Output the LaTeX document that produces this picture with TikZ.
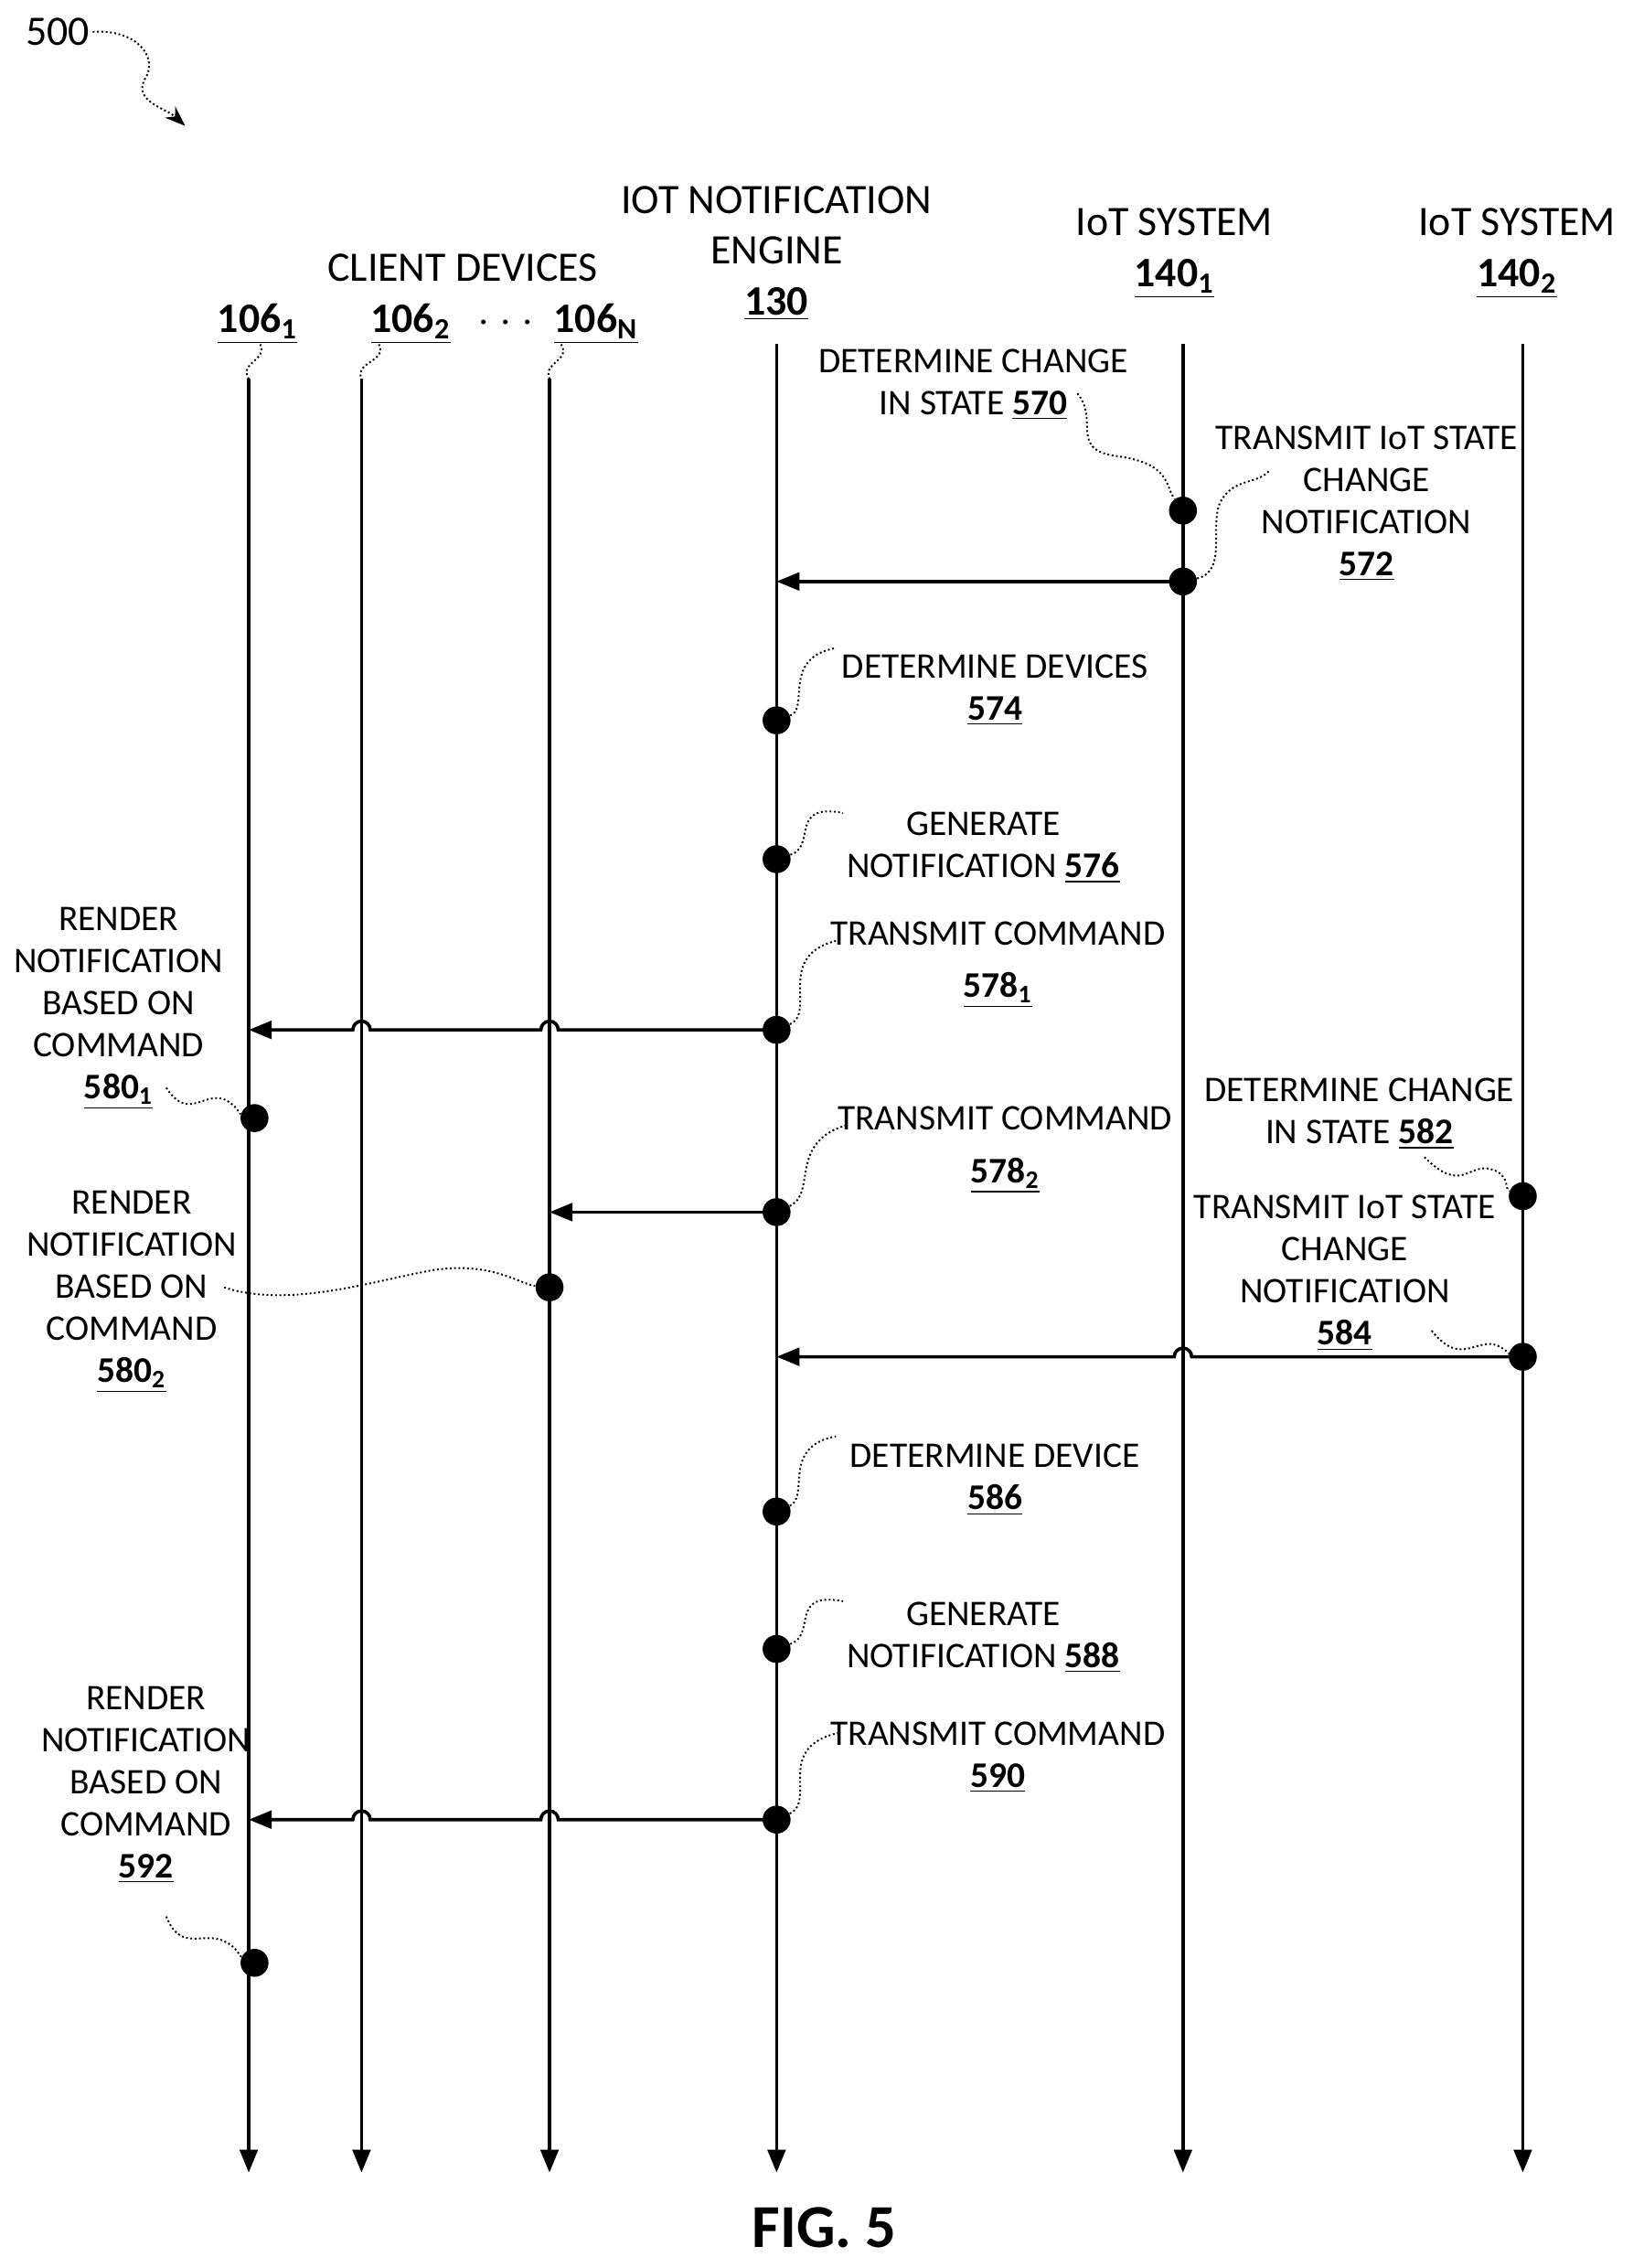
\documentclass[tikz,border=0pt]{standalone}
\usepackage{fontspec}
\setmainfont{Carlito}
\usetikzlibrary{arrows.meta}
\newcommand{\nb}[1]{\underline{\textbf{#1}}}
\begin{document}
\begin{tikzpicture}[x=0.02cm,y=-0.02cm,
  life/.style={line width=1.3pt,-{Triangle[length=9pt,width=7pt]}},
  msg/.style={line width=1.3pt,-{Triangle[length=9pt,width=7pt]}},
  dot/.style={circle,fill=black,inner sep=0pt,minimum size=11pt},
  sq/.style={densely dotted,line width=0.7pt},
  lab/.style={font=\fontsize{14.2}{16.6}\selectfont,align=center,inner sep=1pt},
  hd/.style={font=\fontsize{16.5}{20}\selectfont,align=center,inner sep=1pt}]
\useasboundingbox (0,0) rectangle (1129,1568);
% header
\node[hd] (n500) at (40,22) {500};
\coordinate (a500) at (128,87);
\draw[sq,-{Stealth[length=8pt]}] (n500.east) .. controls (95,20) and (110,40) .. (100,55) .. controls (92,70) and (115,75) .. (a500);
\node[hd] (cd) at (320,185) {CLIENT DEVICES};
\node[hd] (e) at (537,175) {IOT NOTIFICATION\\ENGINE\\\nb{130}};
\node[hd] (s1) at (812,175) {IoT SYSTEM\\\nb{140\textsubscript{1}}};
\node[hd] (s2) at (1049,175) {IoT SYSTEM\\\nb{140\textsubscript{2}}};
\node[hd] (d1) at (178,224) {\nb{106\textsubscript{1}}};
\node[hd] (d2) at (284,224) {\nb{106\textsubscript{2}}};
\node[hd] (dots) at (350,224) {$\cdot\cdot\cdot$};
\node[hd] (dn) at (412,224) {\nb{106\textsubscript{N}}};
% lifelines
\coordinate (t1) at (172,262); \coordinate (b1) at (172,1502);
\coordinate (t2) at (250,262); \coordinate (b2) at (250,1502);
\coordinate (t3) at (380,262); \coordinate (b3) at (380,1502);
\coordinate (t4) at (537,238); \coordinate (b4) at (537,1502);
\coordinate (t5) at (818,238); \coordinate (b5) at (818,1502);
\coordinate (t6) at (1053,238); \coordinate (b6) at (1053,1502);
\foreach \i in {1,...,6} \draw[life] (t\i) -- (b\i);
\draw[sq] (180,238) .. controls (185,250) and (165,250) .. (t1);
\draw[sq] (262,238) .. controls (268,250) and (245,250) .. (t2);
\draw[sq] (388,238) .. controls (395,250) and (375,250) .. (t3);
% dots
\node[dot] (p570) at (818,353) {};
\node[dot] (p572) at (818,402) {};
\node[dot] (p574) at (537,498) {};
\node[dot] (p576) at (537,594) {};
\node[dot] (p578a) at (537,712) {};
\node[dot] (p580a) at (176,773) {};
\node[dot] (p578b) at (537,838) {};
\node[dot] (p580b) at (380,890) {};
\node[dot] (p582) at (1053,827) {};
\node[dot] (p584) at (1053,938) {};
\node[dot] (p586) at (537,1045) {};
\node[dot] (p588) at (537,1140) {};
\node[dot] (p590) at (537,1258) {};
\node[dot] (p592) at (176,1357) {};
\coordinate (r572) at (537,402);
\coordinate (r578a) at (172,712);
\coordinate (r578b) at (380,838);
\coordinate (r584) at (537,938);
\coordinate (r590) at (172,1258);
% messages
\draw[msg] (p572.center) -- (r572);
\draw[msg] (p578a.center) -- (386,712) arc (0:-180:6) -- (256,712) arc (0:-180:6) -- (r578a);
\draw[msg] (p578b.center) -- (r578b);
\draw[msg] (p584.center) -- (824,938) arc (0:-180:6) -- (r584);
\draw[msg] (p590.center) -- (386,1258) arc (0:-180:6) -- (256,1258) arc (0:-180:6) -- (r590);
% labels
\node[lab] (l570) at (673,266) {DETERMINE CHANGE\\IN STATE \nb{570}};
\draw[sq] (745,272) .. controls (760,290) and (740,310) .. (770,315) .. controls (810,320) and (805,335) .. (p570);
\node[lab] (l572) at (945,348) {TRANSMIT IoT STATE\\CHANGE\\NOTIFICATION\\\nb{572}};
\draw[sq] (p572) .. controls (850,395) and (835,360) .. (845,345) .. controls (855,330) and (870,335) .. (878,325);
\node[lab] (l574) at (688,477) {DETERMINE DEVICES\\\nb{574}};
\draw[sq] (p574) .. controls (560,490) and (540,455) .. (578,448);
\node[lab] (l576) at (680,586) {GENERATE\\NOTIFICATION \nb{576}};
\draw[sq] (p576) .. controls (565,585) and (545,555) .. (583,562);
\node[lab] (l578a) at (690,667) {TRANSMIT COMMAND\\[4pt]\nb{578\textsubscript{1}}};
\draw[sq] (p578a) .. controls (565,700) and (535,660) .. (580,650);
\node[lab] (l580a) at (82,697) {RENDER\\NOTIFICATION\\BASED ON\\COMMAND\\\nb{580\textsubscript{1}}};
\draw[sq] (115,752) .. controls (130,775) and (140,755) .. (155,760) .. controls (165,765) and (165,770) .. (p580a);
\node[lab] (l578b) at (695,795) {TRANSMIT COMMAND\\[4pt]\nb{578\textsubscript{2}}};
\draw[sq] (p578b) .. controls (565,825) and (545,790) .. (585,778);
\node[lab] (l580b) at (91,893) {RENDER\\NOTIFICATION\\BASED ON\\COMMAND\\\nb{580\textsubscript{2}}};
\draw[sq] (155,890) .. controls (200,905) and (260,885) .. (300,878) .. controls (340,872) and (360,888) .. (p580b);
\node[lab] (l582) at (940,770) {DETERMINE CHANGE\\IN STATE \nb{582}};
\draw[sq] (985,800) .. controls (1010,825) and (1015,805) .. (1030,808) .. controls (1045,812) and (1040,822) .. (p582);
\node[lab] (l584) at (930,880) {TRANSMIT IoT STATE\\CHANGE\\NOTIFICATION\\\nb{584}};
\draw[sq] (990,920) .. controls (1010,945) and (1020,925) .. (1035,930) .. controls (1045,935) and (1045,938) .. (p584);
\node[lab] (l586) at (688,1023) {DETERMINE DEVICE\\\nb{586}};
\draw[sq] (p586) .. controls (560,1035) and (540,1000) .. (578,993);
\node[lab] (l588) at (680,1132) {GENERATE\\NOTIFICATION \nb{588}};
\draw[sq] (p588) .. controls (565,1130) and (545,1100) .. (583,1107);
\node[lab] (l590) at (690,1215) {TRANSMIT COMMAND\\\nb{590}};
\draw[sq] (p590) .. controls (565,1245) and (535,1208) .. (580,1198);
\node[lab] (l592) at (101,1234) {RENDER\\NOTIFICATION\\BASED ON\\COMMAND\\\nb{592}};
\draw[sq] (115,1325) .. controls (125,1350) and (140,1335) .. (155,1342) .. controls (165,1347) and (165,1352) .. (p592);
\node[font=\fontsize{24}{28}\selectfont\bfseries] (fig) at (570,1540) {FIG. 5};
\end{tikzpicture}
\end{document}
